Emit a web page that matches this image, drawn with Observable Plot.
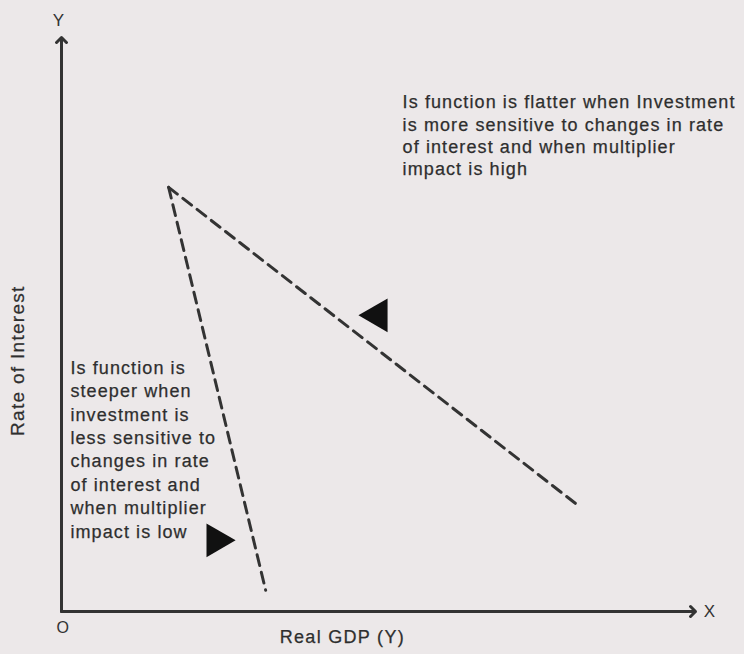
<!DOCTYPE html>
<html>
<head>
<meta charset="utf-8">
<script src="https://cdn.jsdelivr.net/npm/d3@7"></script>
<script src="https://cdn.jsdelivr.net/npm/@observablehq/plot@0.6"></script>
<style>
  html, body { margin: 0; padding: 0; background: #ece8e9; }
  #chart svg { display: block; }
  .note text { letter-spacing: 1.1px; }
  .axis-title text { letter-spacing: 1.3px; }
</style>
</head>
<body>
<div id="chart"></div>
<script>
// IS curves: both start from the same point and slope downward
const steepX = [16.9, 32.2];
const steepY = [73.9, 3.7];
const flatX = [16.9, 81.1];
const flatY = [73.9, 18.8];

// Direction markers placed beside each curve
const markerX = [49.9, 24.4];
const markerY = [51.6, 12.4];
const markerRotate = [-90, 90];

// Explanatory notes
const noteText = [
  "Is function is flatter when Investment\nis more sensitive to changes in rate\nof interest and when multiplier\nimpact is high",
  "Is function is\nsteeper when\ninvestment is\nless sensitive to\nchanges in rate\nof interest and\nwhen multiplier\nimpact is low"
];
const noteX = [53.8, 1.4];
const noteY = [90.4, 44.3];
const noteLineHeight = [1.24, 1.3];

// Axis titles
const xTitle = "Real GDP (Y)";
const yTitle = "Rate of Interest";

const ink = "#333";
const textInk = "#2e2e2e";
const font = "'Liberation Sans', Arial, sans-serif";

const pts = (xs, ys) => xs.map((x, i) => ({x, y: ys[i]}));

// slightly heavier text, like a printed diagram
const heavy = {fill: textInk, stroke: textInk, strokeWidth: 0.25};

const chart = Plot.plot({
  width: 744,
  height: 654,
  marginLeft: 61,
  marginRight: 49,
  marginTop: 37,
  marginBottom: 43,
  x: {domain: [0, 100], axis: null},
  y: {domain: [0, 100], axis: null},
  style: {background: "#ece8e9", fontFamily: font, color: ink},
  marks: [
    // axes with arrowheads
    Plot.arrow([{x1: 0, y1: 0, x2: 0, y2: 100}], {
      x1: "x1", y1: "y1", x2: "x2", y2: "y2",
      stroke: ink, strokeWidth: 3, headLength: 3.5, headAngle: 90
    }),
    Plot.arrow([{x1: 0, y1: 0, x2: 100, y2: 0}], {
      x1: "x1", y1: "y1", x2: "x2", y2: "y2",
      stroke: ink, strokeWidth: 3, headLength: 3.5, headAngle: 90
    }),
    // the two IS curves
    Plot.line(pts(steepX, steepY), {
      x: "x", y: "y", stroke: ink, strokeWidth: 3, strokeDasharray: "11,7"
    }),
    Plot.line(pts(flatX, flatY), {
      x: "x", y: "y", stroke: ink, strokeWidth: 3, strokeDasharray: "11,7"
    }),
    // filled direction triangles
    Plot.dot(markerX.map((x, i) => ({x, y: markerY[i], r: markerRotate[i]})), {
      x: "x", y: "y", symbol: "triangle", r: 12.5, rotate: "r",
      fill: "#111", stroke: "none"
    }),
    // notes (one mark per note so each keeps its own line spacing)
    ...noteText.map((t, i) => Plot.text([t], {
      x: noteX[i], y: noteY[i], text: d => d, textAnchor: "start", lineAnchor: "top",
      lineHeight: noteLineHeight[i], fontSize: 18, className: "note", ...heavy
    })),
    // axis letters and origin
    Plot.text(["Y"], {x: -0.5, y: 103, text: d => d, fontSize: 17, fill: ink}),
    Plot.text(["X"], {x: 102.2, y: 0, text: d => d, fontSize: 17, fill: ink}),
    Plot.text(["O"], {x: 0.2, y: -2.8, text: d => d, fontSize: 16, fill: ink}),
    // axis titles
    Plot.text([xTitle], {x: 44.3, y: -4.5, text: d => d, fontSize: 18, className: "axis-title", ...heavy}),
    Plot.text([yTitle], {x: -6.8, y: 43.7, text: d => d, fontSize: 19, rotate: -90, className: "axis-title", ...heavy})
  ]
});

document.getElementById("chart").append(chart);
</script>
</body>
</html>
